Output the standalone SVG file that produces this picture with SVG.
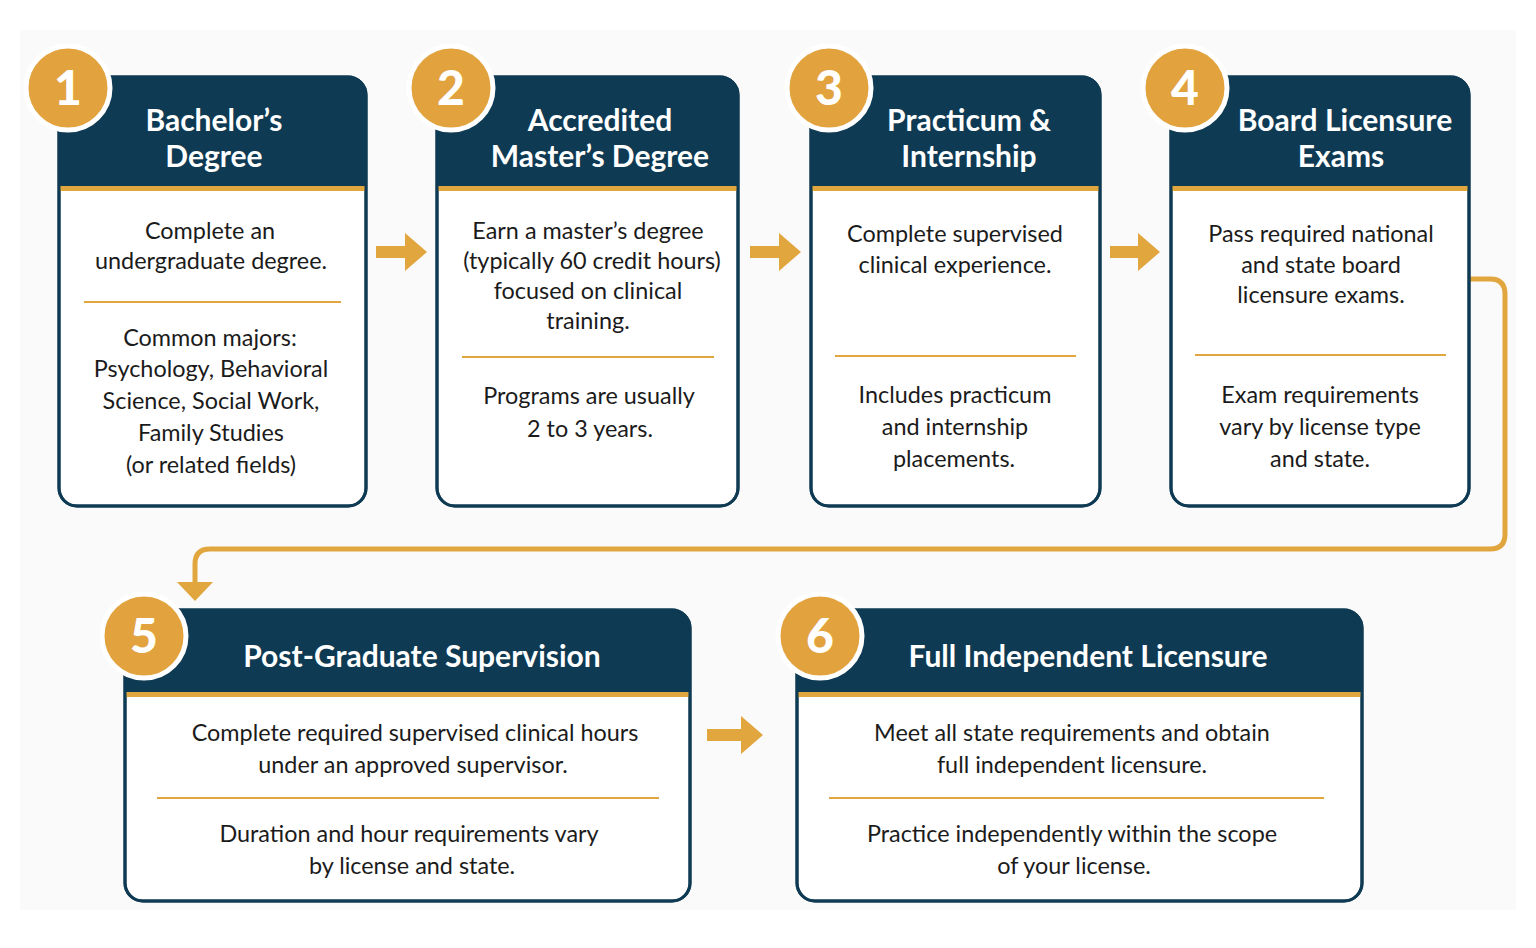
<svg xmlns="http://www.w3.org/2000/svg" width="1536" height="948" viewBox="0 0 1536 948">
<style>
.card{fill:#ffffff;stroke:#0e3a53;stroke-width:3}
.cardline{fill:none;stroke:#0e3a53;stroke-width:3}
.hdr{fill:#0e3a53}
.gold{fill:#e2a63f}
.div{stroke:#e2a63f;stroke-width:2}
.badge{fill:#e2a33e;stroke:#ffffff;stroke-width:5}
.num{font-family:Lato,"Liberation Sans",sans-serif;font-weight:900;font-size:48px;fill:#ffffff;text-anchor:middle}
.title{font-family:Lato,"Liberation Sans",sans-serif;font-weight:700;font-size:30px;fill:#ffffff;text-anchor:middle}
.body{font-family:Lato,"Liberation Sans",sans-serif;font-size:23.4px;fill:#1b1b1b;text-anchor:middle}
.arrow{fill:#e2a63f}
.conn{fill:none;stroke:#e2a63f;stroke-width:5}
</style>
<rect x="0" y="0" width="1536" height="948" fill="#ffffff"/>
<rect x="20" y="30" width="1496" height="880" fill="#fafafa"/>

<g id="connectors">
<polygon class="arrow" points="376,246 405,246 405,233 427,252 405,271 405,258 376,258"/>
<polygon class="arrow" points="750,246 779,246 779,233 801,252 779,271 779,258 750,258"/>
<polygon class="arrow" points="1110,246 1138,246 1138,233 1160,252 1138,271 1138,258 1110,258"/>
<polygon class="arrow" points="707,729 741,729 741,716 763,735 741,754 741,741 707,741"/>
<path class="conn" d="M1469,279 H1490 Q1505,279 1505,294 V534 Q1505,549 1490,549 H210 Q195,549 195,564 V584"/>
<polygon class="arrow" points="177,582 213,582 195,601"/>
</g>

<g id="step1">
<rect class="card" x="59" y="77" width="307" height="429" rx="18"/>
<path class="hdr" d="M59,188 V95 Q59,77 77,77 H348 Q366,77 366,95 V188 Z"/>
<rect class="gold" x="59" y="186" width="307" height="5"/>
<rect class="cardline" x="59" y="77" width="307" height="429" rx="18"/>
<circle class="badge" cx="68" cy="88" r="42"/>
<text class="num" x="68" y="105">1</text>
<text class="title" x="214" y="131">Bachelor’s</text>
<text class="title" x="214" y="167">Degree</text>
<text class="body" x="210" y="239">Complete an</text>
<text class="body" x="211" y="269">undergraduate degree.</text>
<line class="div" x1="84" y1="302" x2="341" y2="302"/>
<text class="body" x="210" y="346">Common majors:</text>
<text class="body" x="211" y="377">Psychology, Behavioral</text>
<text class="body" x="211" y="409">Science, Social Work,</text>
<text class="body" x="211" y="441">Family Studies</text>
<text class="body" x="211" y="473">(or related fields)</text>
</g>

<g id="step2">
<rect class="card" x="437" y="77" width="301" height="429" rx="18"/>
<path class="hdr" d="M437,188 V95 Q437,77 455,77 H720 Q738,77 738,95 V188 Z"/>
<rect class="gold" x="437" y="186" width="301" height="5"/>
<rect class="cardline" x="437" y="77" width="301" height="429" rx="18"/>
<circle class="badge" cx="451" cy="88" r="42"/>
<text class="num" x="451" y="105">2</text>
<text class="title" x="600" y="131">Accredited</text>
<text class="title" x="600" y="167">Master’s Degree</text>
<text class="body" x="588" y="239">Earn a master’s degree</text>
<text class="body" x="592" y="269">(typically 60 credit hours)</text>
<text class="body" x="588" y="299">focused on clinical</text>
<text class="body" x="588" y="329">training.</text>
<line class="div" x1="462" y1="357" x2="714" y2="357"/>
<text class="body" x="589" y="404">Programs are usually</text>
<text class="body" x="590" y="437">2 to 3 years.</text>
</g>

<g id="step3">
<rect class="card" x="811" y="77" width="289" height="429" rx="18"/>
<path class="hdr" d="M811,188 V95 Q811,77 829,77 H1082 Q1100,77 1100,95 V188 Z"/>
<rect class="gold" x="811" y="186" width="289" height="5"/>
<rect class="cardline" x="811" y="77" width="289" height="429" rx="18"/>
<circle class="badge" cx="829" cy="88" r="42"/>
<text class="num" x="829" y="105">3</text>
<text class="title" x="969" y="131">Practicum &amp;</text>
<text class="title" x="969" y="167">Internship</text>
<text class="body" x="955" y="242">Complete supervised</text>
<text class="body" x="955" y="273">clinical experience.</text>
<line class="div" x1="835" y1="356" x2="1076" y2="356"/>
<text class="body" x="955" y="403">Includes practicum</text>
<text class="body" x="955" y="435">and internship</text>
<text class="body" x="954" y="467">placements.</text>
</g>

<g id="step4">
<rect class="card" x="1171" y="77" width="298" height="429" rx="18"/>
<path class="hdr" d="M1171,188 V95 Q1171,77 1189,77 H1451 Q1469,77 1469,95 V188 Z"/>
<rect class="gold" x="1171" y="186" width="298" height="5"/>
<rect class="cardline" x="1171" y="77" width="298" height="429" rx="18"/>
<circle class="badge" cx="1185" cy="88" r="42"/>
<text class="num" x="1185" y="105">4</text>
<text class="title" x="1345" y="131">Board Licensure</text>
<text class="title" x="1341" y="167">Exams</text>
<text class="body" x="1321" y="242">Pass required national</text>
<text class="body" x="1321" y="273">and state board</text>
<text class="body" x="1321" y="303">licensure exams.</text>
<line class="div" x1="1195" y1="355" x2="1446" y2="355"/>
<text class="body" x="1320" y="403">Exam requirements</text>
<text class="body" x="1320" y="435">vary by license type</text>
<text class="body" x="1320" y="467">and state.</text>
</g>

<g id="step5">
<rect class="card" x="125" y="610" width="565" height="291" rx="18"/>
<path class="hdr" d="M125,694 V628 Q125,610 143,610 H672 Q690,610 690,628 V694 Z"/>
<rect class="gold" x="125" y="692" width="565" height="5"/>
<rect class="cardline" x="125" y="610" width="565" height="291" rx="18"/>
<circle class="badge" cx="144" cy="636" r="42"/>
<text class="num" x="144" y="653">5</text>
<text class="title" x="422" y="667">Post-Graduate Supervision</text>
<text class="body" x="415" y="741">Complete required supervised clinical hours</text>
<text class="body" x="413" y="773">under an approved supervisor.</text>
<line class="div" x1="157" y1="798" x2="659" y2="798"/>
<text class="body" x="409" y="842">Duration and hour requirements vary</text>
<text class="body" x="412" y="874">by license and state.</text>
</g>

<g id="step6">
<rect class="card" x="797" y="610" width="565" height="291" rx="18"/>
<path class="hdr" d="M797,694 V628 Q797,610 815,610 H1344 Q1362,610 1362,628 V694 Z"/>
<rect class="gold" x="797" y="692" width="565" height="5"/>
<rect class="cardline" x="797" y="610" width="565" height="291" rx="18"/>
<circle class="badge" cx="820" cy="636" r="42"/>
<text class="num" x="820" y="653">6</text>
<text class="title" x="1088" y="667">Full Independent Licensure</text>
<text class="body" x="1072" y="741">Meet all state requirements and obtain</text>
<text class="body" x="1072" y="773">full independent licensure.</text>
<line class="div" x1="829" y1="798" x2="1324" y2="798"/>
<text class="body" x="1072" y="842">Practice independently within the scope</text>
<text class="body" x="1074" y="874">of your license.</text>
</g>
</svg>
